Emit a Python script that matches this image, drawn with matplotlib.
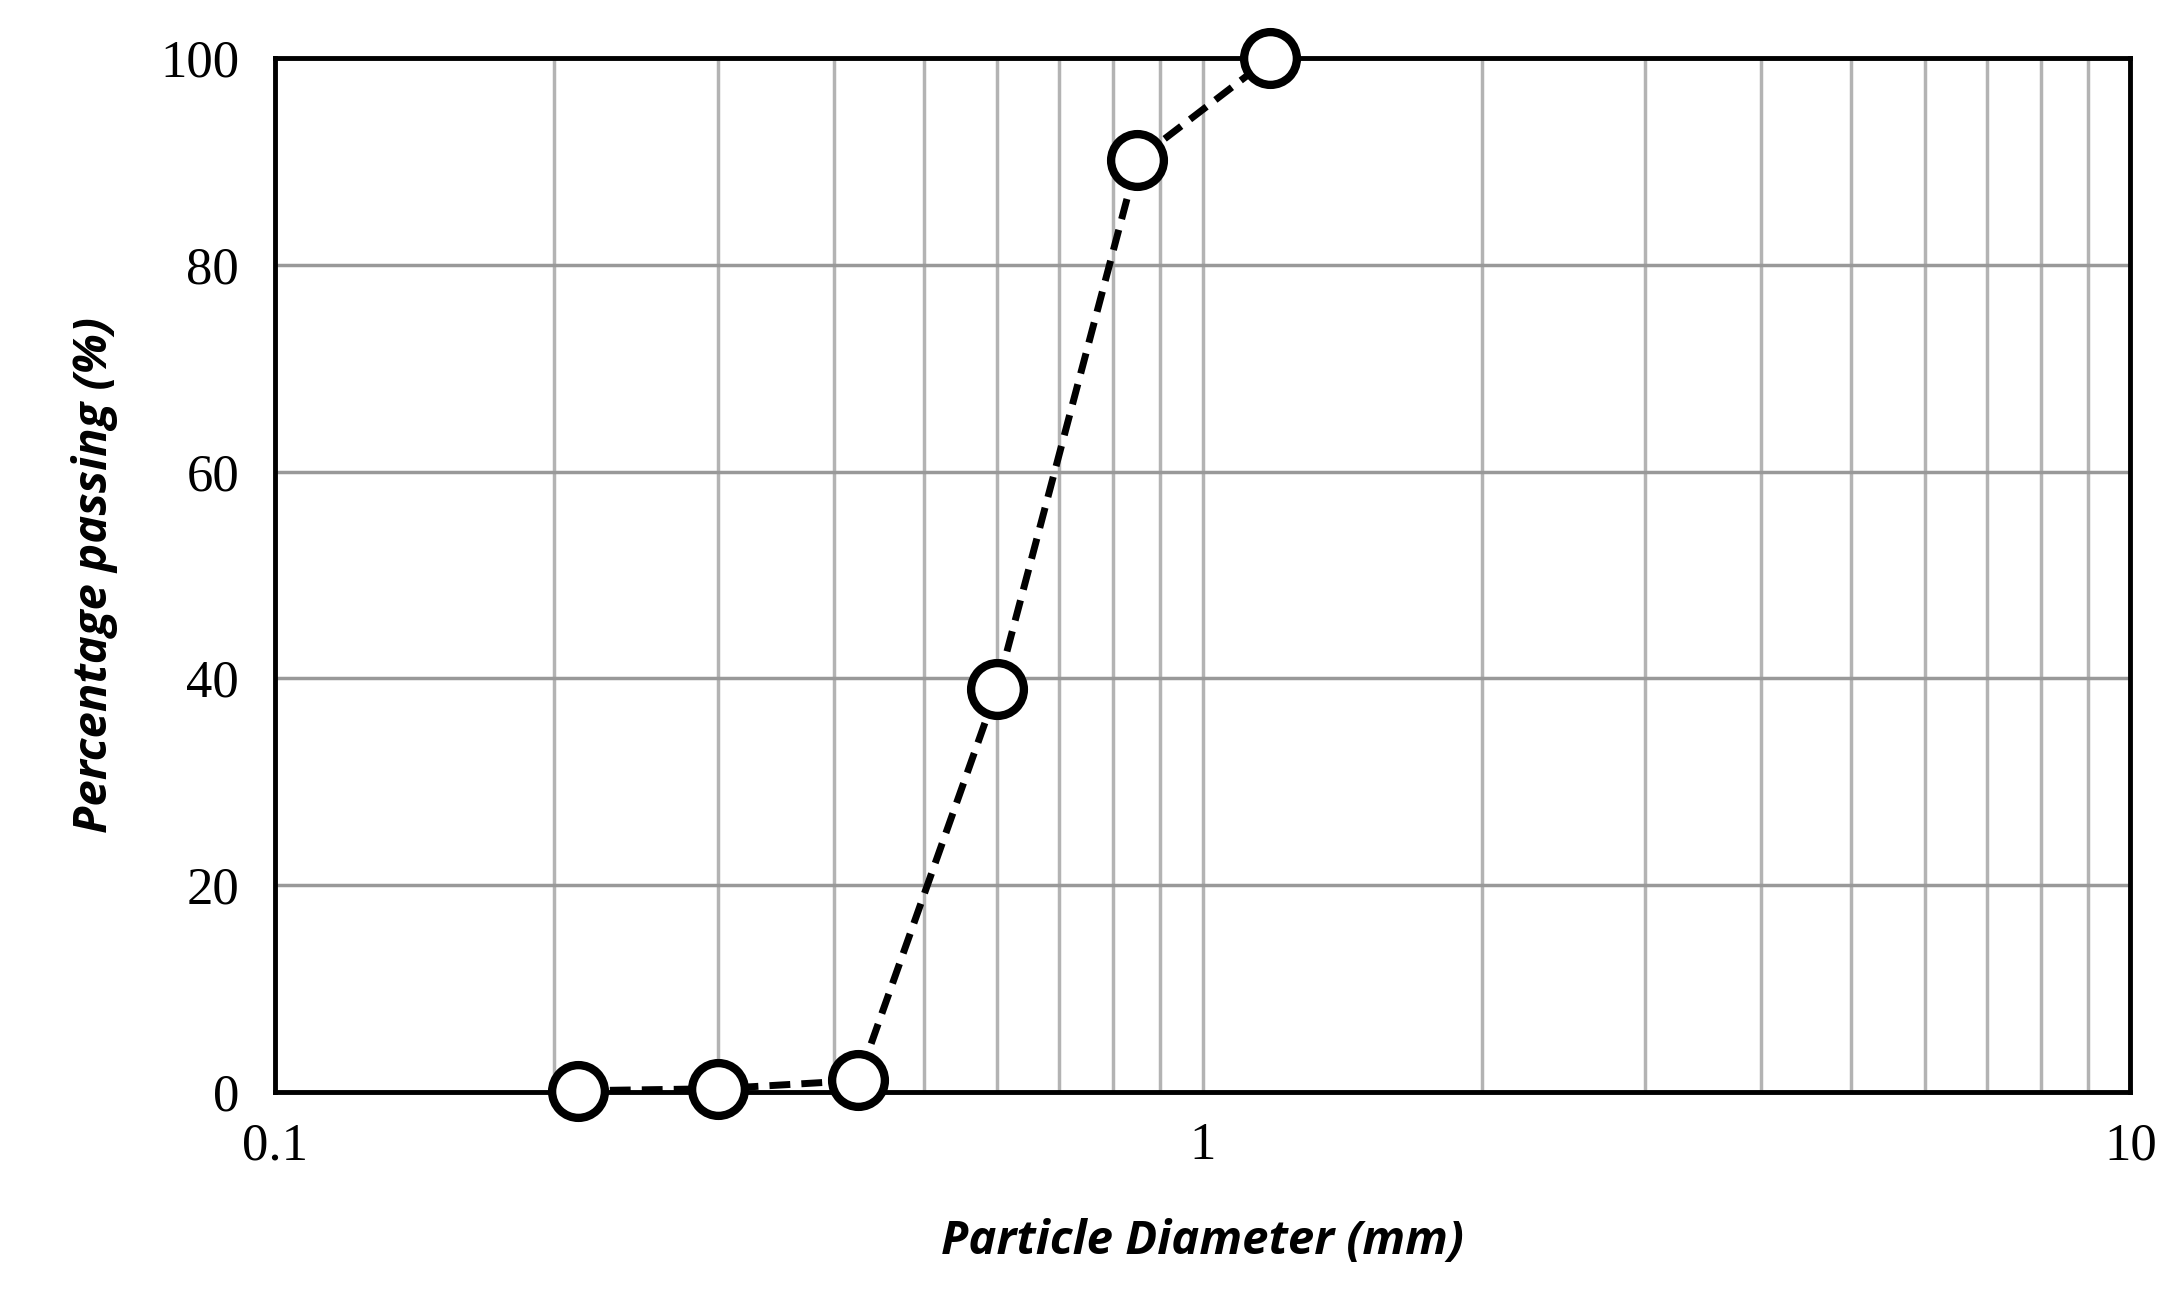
import matplotlib
matplotlib.use("Agg")
import matplotlib.pyplot as plt
from matplotlib.ticker import LogLocator, FixedLocator, NullFormatter

# sieve data
diameter_mm = [0.212, 0.30, 0.425, 0.60, 0.85, 1.18]
passing_pct = [0.1, 0.3, 1.1, 39.0, 90.2, 100.0]

x_ticks = [0.1, 1, 10]
x_tick_labels = ["0.1", "1", "10"]
y_ticks = [0, 20, 40, 60, 80, 100]

fig = plt.figure(figsize=(21.84, 12.99), dpi=100)
ax = fig.add_axes([0.126, 0.1595, 0.8495, 0.7955])

ax.plot(diameter_mm, passing_pct, linestyle=(0, (3, 1.6)), color="black", linewidth=5,
        marker="o", markersize=38, markerfacecolor="white", markeredgecolor="black",
        markeredgewidth=6, zorder=3, clip_on=False)

ax.set_xscale("log")
ax.set_xlim(0.1, 10)
ax.set_ylim(0, 100)
ax.xaxis.set_major_locator(FixedLocator(x_ticks))
ax.set_xticklabels(x_tick_labels)
ax.xaxis.set_minor_locator(LogLocator(base=10, subs=range(2, 10)))
ax.xaxis.set_minor_formatter(NullFormatter())
ax.set_yticks(y_ticks)

ax.grid(True, which="both", axis="x", color="#b3b3b3", linewidth=2.5)
ax.grid(True, which="major", axis="y", color="#999999", linewidth=2.5)
ax.set_axisbelow(True)

for s in ax.spines.values():
    s.set_linewidth(3.5)
ax.tick_params(which="both", length=0)
ax.tick_params(axis="x", pad=22)
ax.tick_params(axis="y", pad=26)
for lab in ax.get_xticklabels() + ax.get_yticklabels():
    lab.set_fontfamily("Liberation Serif")
    lab.set_fontsize(38)

ax.set_xlabel("Particle Diameter (mm)", fontsize=34, fontweight="bold", fontstyle="italic",
              family="Open Sans", labelpad=34)
ax.set_ylabel("Percentage passing (%)", fontsize=34, fontweight="bold", fontstyle="italic",
              family="Open Sans", labelpad=30)

fig.savefig("out.png", dpi=100)
